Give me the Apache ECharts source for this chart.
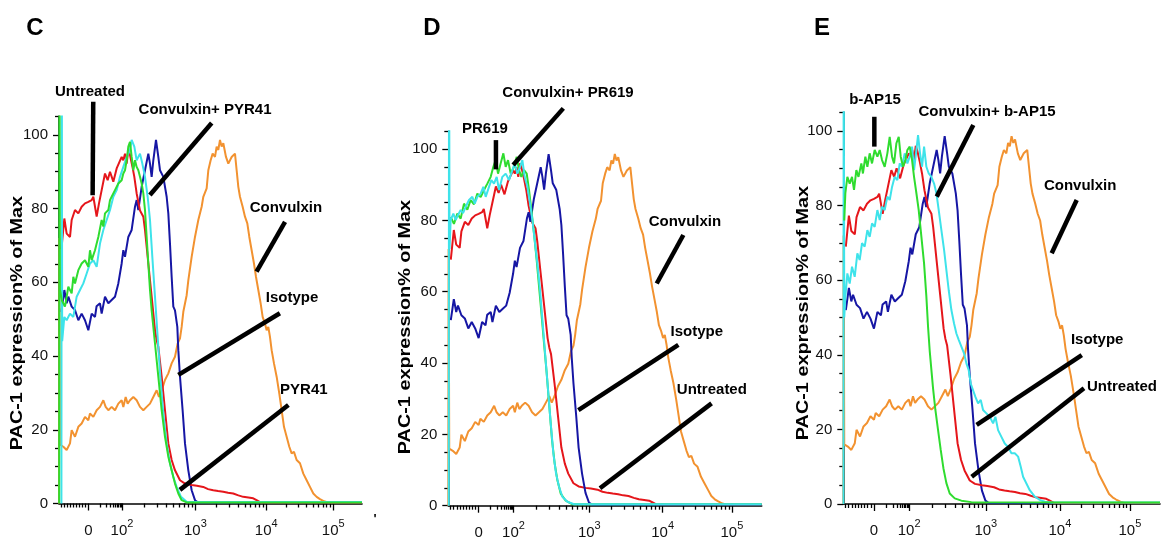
<!DOCTYPE html>
<html>
<head>
<meta charset="utf-8">
<script src="https://cdn.jsdelivr.net/npm/echarts@6/dist/echarts.min.js"></script>
<style>
  html, body { margin: 0; padding: 0; background: #ffffff; }
  #chart { width: 1170px; height: 549px; }
</style>
</head>
<body>
<div id="chart"></div>
<script>
// Fluorescence axis: display channel 0..1000 (biexponential scale).
// Decade tick positions on that channel scale and their labels.
const xMajorTicks = [97, 208, 450, 684, 905];
const xTickLabels = ['0', '10^2', '10^3', '10^4', '10^5'];
const yMajorTicks = [0, 20, 40, 60, 80, 100];
const yMax = 105;

// Histograms: [channel, % of max]
// Controls shared by all three panels
const untreated = [
  [8, 69], [17.6, 77.3], [25.3, 73.2], [36.3, 72.3], [41.8, 76.9], [52.8, 79.6], [63.8, 78.7],
  [74.8, 80.5], [85.8, 81.4], [96.8, 81.8], [107.8, 82.3], [113.3, 83.2], [124.3, 77.8], [132, 81.4],
  [140.8, 85.0], [151.8, 89.5], [160.6, 87.7], [168.3, 90.0], [179.3, 87.3], [190.3, 90.9],
  [195.8, 91.3], [206.8, 94.0], [212.3, 93.1], [217.8, 94.9], [223.3, 92.2], [228.8, 96.0],
  [234.3, 94.5], [242, 91.5], [248.6, 88.6], [256.3, 84.1], [267.3, 79.5], [278.3, 77.8],
  [283.8, 74.2], [294.8, 65.1], [305.8, 56.1], [316.8, 47.0], [322.3, 44.3], [327.8, 42.5],
  [338.8, 34.4], [349.8, 25.3], [360.8, 16.3], [371.8, 11.8], [382.8, 9.0], [399.3, 6.3],
  [415.8, 5.4], [437.8, 5.0], [455, 4.8], [476, 4.5], [492, 3.9], [509, 3.6], [525, 3.4],
  [542, 3.2], [558, 2.9], [575, 2.7], [592, 2.2], [608, 1.8], [625, 1.6], [641, 1.4],
  [652, 0.9], [665, 0.3], [1000, 0.3]
];
const isotype = [
  [8, 52], [17.6, 57.9], [25.3, 54.3], [30.8, 56.1], [41.8, 53.4], [52.8, 52.5], [63.8, 49.7],
  [74.8, 51.5], [85.8, 49.7], [96.8, 47.0], [107.8, 51.5], [118.8, 50.6], [124, 53.5], [135.3, 54.3],
  [140.8, 51.5], [151.8, 56.1], [162.8, 54.3], [173.8, 55.2], [184.8, 56.1], [195.8, 59.7],
  [206.8, 65.1], [212.3, 68.7], [217.8, 66.9], [228.8, 72.3], [239.8, 74.2], [250.8, 80.5],
  [256.3, 82.3], [261.8, 79.6], [272.8, 85.9], [283.8, 90.4], [294.8, 94.9], [300.3, 92.2],
  [305.8, 88.6], [311.3, 93.1], [320.1, 98.6], [327.8, 94.0], [333.3, 90.4], [344.3, 88.6],
  [355.3, 83.2], [360.8, 78.7], [366.3, 70.5], [371.8, 61.5], [377.3, 53.4], [382.8, 52.4],
  [390.5, 47.9], [393.8, 41.6], [399.3, 34.4], [408, 25.3], [415.8, 16.3], [426.8, 9.0],
  [437.8, 3.6], [448.8, 0.9], [458, 0.3], [1000, 0.3]
];
const convulxin = [
  [0, 0], [1, 72], [3, 16], [14.3, 15.4], [25.3, 14.5], [36.3, 16.3], [41.8, 19.9], [52.8, 18.1],
  [63.8, 20.8], [74.8, 21.7], [85.8, 23.5], [96.8, 22.6], [102.3, 24.4], [113.3, 23.5], [124.3, 25.3],
  [135.3, 26.2], [146.3, 28.0], [154, 26.2], [162.8, 25.3], [173.8, 26.2], [184.8, 25.3],
  [195.8, 27.1], [206.8, 28.0], [212.3, 26.2], [220, 28.9], [226.6, 27.1], [234.3, 28.0],
  [245.3, 28.9], [256.3, 28.0], [267.3, 26.2], [278.3, 25.3], [289.3, 26.2], [300.3, 27.1],
  [311.3, 28.9], [322.3, 30.7], [330, 28.9], [338.8, 30.7], [349.8, 33.5], [360.8, 35.3],
  [371.8, 38.0], [382.8, 39.8], [391.6, 43.4], [399.3, 44.8], [404.8, 47.9], [410.3, 52.0],
  [421.3, 56.5], [426.8, 60.5], [437.8, 66.9], [448.8, 72.3], [459.8, 76.9], [470.8, 80.5],
  [476.3, 83.2], [487.3, 85.5], [492.8, 90.4], [500.5, 93.1], [507.1, 94.9], [514.8, 94.0],
  [520.3, 96.8], [525.8, 95.9], [531.3, 98.6], [536.8, 96.8], [542.3, 97.7], [551.1, 94.0],
  [558.8, 92.2], [569.8, 94.0], [580.8, 94.9], [586.3, 90.4], [591.8, 85.9], [597.3, 83.2],
  [606.1, 80.5], [613.8, 77.8], [621.5, 76.0], [628.1, 72.3], [635.8, 68.7], [643.5, 65.1],
  [650.1, 61.5], [657.8, 57.9], [665.5, 54.3], [672.1, 50.6], [679.8, 48.8], [685.3, 47.0],
  [690.8, 47.9], [696.3, 45.2], [701.8, 41.6], [709.5, 38.0], [718.3, 34.4], [727.1, 29.8],
  [734.8, 25.3], [742.5, 20.8], [751.3, 18.1], [760.1, 15.4], [767.8, 13.6], [775.5, 14.0],
  [784.3, 11.8], [795.3, 10.9], [806.3, 8.1], [817.3, 6.3], [828.3, 4.5], [839.3, 2.7],
  [850.3, 1.8], [861.3, 1.2], [875, 0.6], [888, 0.3], [1000, 0.3]
];

// Panel C: PYR41
const pyr41 = [
  [0.5, 0], [1.5, 140], [3, 58], [10, 55], [19.8, 53.4], [30.8, 58.8], [41.8, 57.0], [47.3, 61.5],
  [52.8, 59.7], [63.8, 63.3], [74.8, 65.1], [85.8, 66.0], [96.8, 64.2], [102.3, 68.7], [107.8, 66.0],
  [118.8, 68.7], [124.3, 70.5], [129.8, 72.3], [140.8, 76.9], [146.3, 75.1], [151.8, 78.7],
  [162.8, 79.6], [168.3, 82.3], [173.8, 83.2], [184.8, 85.0], [195.8, 86.8], [206.8, 87.7],
  [212.3, 89.5], [217.8, 90.4], [223.3, 93.1], [228.8, 96.8], [234.3, 98.1], [239.8, 94.0],
  [245.3, 90.4], [250.8, 93.1], [256.3, 91.3], [261.8, 90.4], [267.3, 88.6], [272.8, 86.8],
  [278.3, 84.1], [283.8, 79.6], [289.3, 72.3], [294.8, 65.1], [300.3, 57.9], [305.8, 52.4],
  [316.8, 43.4], [327.8, 34.4], [338.8, 25.3], [349.8, 18.1], [360.8, 12.7], [371.8, 9.0],
  [382.8, 5.4], [393.8, 2.7], [404.8, 0.9], [421.3, 0.3], [1000, 0.3]
];
const convulxinPyr41 = [
  [8, 0], [9, 140], [10.5, 44], [17.6, 50.6], [25.3, 49.7], [36.3, 51.5], [47.3, 50.6], [58.3, 56.1],
  [69.3, 57.9], [80.3, 59.7], [91.3, 62.4], [102.3, 65.1], [113.3, 66.0], [124.3, 64.2], [135.3, 70.5],
  [146.3, 74.2], [157.3, 76.9], [168.3, 79.6], [179.3, 83.2], [190.3, 85.0], [201.3, 88.6],
  [212.3, 91.3], [223.3, 94.0], [234.3, 95.9], [239.8, 98.6], [248.6, 96.8], [256.3, 93.1],
  [267.3, 94.9], [275, 92.2], [283.8, 88.6], [292.6, 83.2], [300.3, 76.9], [308, 66.9],
  [316.8, 56.1], [325.6, 45.2], [334.4, 34.4], [344.3, 24.4], [355.3, 16.3], [366.3, 10.9],
  [377.3, 7.2], [388.3, 4.5], [402.6, 1.8], [421.3, 0.5], [1000, 0.4]
];

// Panel D: PR619
const pr619 = [
  [7.6, 81], [18, 79], [28.9, 81.9], [39.5, 80.5], [50.1, 84.7], [60.8, 83], [71.4, 85.7], [82, 84.5],
  [92.7, 87.5], [103.3, 86.5], [114, 88.5], [124.6, 90.3], [135.3, 92.2], [143.8, 95.0], [151.2, 96.9],
  [158.7, 93.1], [167.2, 96.0], [175.7, 98.8], [183.1, 95.0], [190.6, 96.9], [199.1, 93.1],
  [209.7, 95.0], [218.3, 97.8], [225.7, 94.1], [233.1, 92.2], [241.7, 94.1], [250.2, 93.1],
  [257.6, 88.5], [265.1, 82.9], [273.6, 76.3], [282.1, 68.8], [290.6, 60.4], [299.1, 52.0],
  [305.5, 45.5], [314, 37.1], [322.5, 27.7], [331, 18.4], [339.5, 11.8], [348, 7.2], [358.7, 3.4],
  [374.7, 1.4], [396, 0.4], [1000, 0.4]
];
const convulxinPr619 = [
  [1.5, 0], [2.3, 140], [4, 72], [7.6, 80.1], [16.1, 81.9], [23.5, 80.1], [31, 81.5], [39.5, 82.9],
  [47, 82], [55.5, 83.8], [66.1, 85.7], [76.7, 86.6], [84.2, 84.7], [92.7, 86.6], [103.3, 87.5],
  [111.8, 89.4], [119.3, 86.6], [129.9, 89.4], [137.4, 91.3], [145.9, 90.3], [154.4, 92.2],
  [161.9, 88.5], [172.5, 92.2], [183.1, 93.1], [193.8, 91.3], [204.4, 94.1], [211.9, 96.0],
  [220.4, 93.1], [228.9, 95.0], [236.3, 96.9], [243.8, 92.2], [252.3, 89.4], [260.8, 84.7],
  [268.3, 80.1], [275.7, 74.4], [284.2, 67.9], [292.7, 60.4], [301.2, 51.1], [309.8, 41.7],
  [318.3, 32.4], [326.8, 23.1], [335.3, 14.6], [343.8, 9.0], [353.4, 5.3], [364, 2.5], [380, 1.1],
  [401.3, 0.4], [1000, 0.4]
];

// Panel E: b-AP15
const bap15 = [
  [3, 76], [6.5, 83.3], [12.8, 87.7], [20.2, 85.9], [27.5, 87.7], [33.8, 84.2], [41.2, 89.5], [48, 87.7],
  [57, 91.3], [62, 88.6], [69.6, 93.1], [76, 90.4], [83.3, 94.0], [90.7, 91.3], [99.1, 94.9],
  [107.6, 93.1], [115, 94.9], [122.3, 92.2], [130.7, 90.4], [139.1, 94.0], [146.5, 98.4], [153.9, 93.1],
  [160.2, 91.3], [167.6, 96.7], [175, 98.4], [181.3, 93.1], [188.6, 90.4], [196, 92.2], [202.3, 94.9],
  [209.7, 95.8], [217.1, 92.2], [223.4, 87.7], [230.8, 83.3], [238.1, 78.8], [246.6, 71.6],
  [255, 64.5], [262.3, 55.6], [267.6, 47.5], [272.9, 41], [278.1, 36], [283.4, 31], [290.8, 25.2],
  [299.2, 19.8], [307.6, 14.5], [316.1, 9.6], [325.5, 5.6], [336.1, 2.8], [351.9, 1.5], [372.9, 0.9],
  [404.5, 0.5], [1000, 0.4]
];
const convulxinBap15 = [
  [0.5, 0], [1.2, 140], [3, 50], [6.5, 55.6], [12.8, 61.8], [20.2, 59.1], [27.5, 63.6], [36, 60.9],
  [44.4, 67.2], [51.7, 65.4], [59.1, 69.9], [67.5, 69.0], [76, 73.4], [83.3, 71.6], [90.7, 75.2],
  [99.1, 74.3], [107.6, 78.8], [115, 76.1], [122.3, 79.7], [130.7, 78.8], [139.1, 82.4], [146.5, 81.5],
  [153.9, 85.0], [162.3, 87.7], [170.7, 86.8], [178.1, 91.3], [185.5, 90.4], [193.9, 94.0],
  [202.3, 91.3], [209.7, 93.1], [217.1, 95.8], [223.4, 89.5], [230.8, 94.9], [236, 98.9],
  [242.3, 94.0], [248.7, 90.4], [255, 95.8], [262.3, 90.4], [269.7, 88.6], [278.1, 87.7],
  [286.6, 85.9], [294, 83.3], [301.3, 78.8], [309.7, 73.4], [318.2, 68.1], [325.5, 62.7],
  [332.9, 57.3], [341.3, 52.0], [349.7, 48.4], [357.1, 45.7], [364.5, 44.0], [372.9, 42.2],
  [381.3, 40.4], [388.7, 37.7], [396, 35.9], [402.4, 32.3], [409.8, 30.5], [417.1, 28.7],
  [425.6, 27.0], [434, 27.9], [441.3, 25.2], [451.9, 24.3], [462.4, 23.4], [473, 21.6],
  [480.3, 23.4], [488.7, 19.8], [499.3, 18.0], [509.8, 16.2], [520.3, 15.3], [530.9, 13.6],
  [541.4, 13.6], [552, 12.7], [560.3, 10.0], [567.7, 7.3], [578.2, 5.5], [588.8, 3.7],
  [604.6, 2.0], [620.4, 1.1], [636.2, 0.6], [657.2, 0.4], [1000, 0.4]
];

const colors = {
  untreated: '#e5161b',
  isotype: '#1616a4',
  convulxin: '#f29230',
  drug: '#2fdc2f',
  combo: '#3ee3ea'
};

const FONT = '"Liberation Sans", Arial, Helvetica, sans-serif';

// Panel layout and content
const panels = [
  {
    letter: 'C', letterPos: [35, 28], titlePos: [17.5, 323],
    grid: { left: 59, right: 808, top: 116.4, bottom: 45.5 },
    series: [
      ['Convulxin', convulxin, colors.convulxin],
      ['Isotype', isotype, colors.isotype],
      ['Untreated', untreated, colors.untreated],
      ['Convulxin+ PYR41', convulxinPyr41, colors.combo],
      ['PYR41', pyr41, colors.drug]
    ],
    notes: [
      { text: 'Untreated', at: [102, 111.6], from: [113, 109], to: [111, 83.6] },
      { text: 'Convulxin+ PYR41', at: [482, 106.7], from: [504, 103.2], to: [300, 83.7] },
      { text: 'Convulxin', at: [749, 80.1], from: [746, 76.4], to: [652, 62.9] },
      { text: 'Isotype', at: [769, 55.7], from: [729, 51.6], to: [394, 34.9] },
      { text: 'PYR41', at: [808, 30.8], from: [757, 26.7], to: [399, 3.7] }
    ]
  },
  {
    letter: 'D', letterPos: [432, 28], titlePos: [406, 327],
    grid: { left: 448.3, right: 408.3, top: 131.2, bottom: 43.3 },
    series: [
      ['Convulxin', convulxin, colors.convulxin],
      ['Untreated', untreated, colors.untreated],
      ['Isotype', isotype, colors.isotype],
      ['PR619', pr619, colors.drug],
      ['Convulxin+ PR619', convulxinPr619, colors.combo]
    ],
    notes: [
      { text: 'PR619', at: [117, 105.6], from: [152, 102.5], to: [152, 94.3] },
      { text: 'Convulxin+ PR619', at: [382, 115.7], from: [367, 111.4], to: [207, 95.5] },
      { text: 'Convulxin', at: [755, 79.5], from: [750, 75.9], to: [665, 62.3] },
      { text: 'Isotype', at: [793, 48.7], from: [734, 45.1], to: [415, 26.8] },
      { text: 'Untreated', at: [841, 32.4], from: [840, 28.7], to: [484, 4.9] }
    ]
  },
  {
    letter: 'E', letterPos: [822, 28], titlePos: [803.5, 313],
    grid: { left: 843.3, right: 10, top: 112.3, bottom: 45 },
    series: [
      ['Convulxin', convulxin, colors.convulxin],
      ['Isotype', isotype, colors.isotype],
      ['Untreated', untreated, colors.untreated],
      ['Convulxin+ b-AP15', convulxinBap15, colors.combo],
      ['b-AP15', bap15, colors.drug]
    ],
    notes: [
      { text: 'b-AP15', at: [100, 108.3], from: [98, 103.8], to: [98, 95.8] },
      { text: 'Convulxin+ b-AP15', at: [454, 105.1], from: [410.5, 101.6], to: [295, 82.4] },
      { text: 'Convulxin', at: [748, 85.3], from: [737, 81.5], to: [658, 67.2] },
      { text: 'Isotype', at: [801.5, 44.0], from: [753, 39.9], to: [421, 21.2] },
      { text: 'Untreated', at: [880, 31.4], from: [760, 31.0], to: [405.5, 7.3] }
    ]
  }
];

// Minor ticks of the fluorescence axis: linear region below zero and log sub-decades
function minorXTicks() {
  const ticks = [];
  for (let k = 1; k <= 9; k++) ticks.push(xMajorTicks[0] - 10 * k);
  const decadeStarts = [135, xMajorTicks[1], xMajorTicks[2], xMajorTicks[3]];
  const decadeEnds = [xMajorTicks[1], xMajorTicks[2], xMajorTicks[3], xMajorTicks[4]];
  decadeStarts.forEach((s, i) => {
    const w = decadeEnds[i] - s;
    for (let m = (i === 0 ? 1 : 2); m <= 9; m++) ticks.push(s + Math.log10(m) * w);
  });
  return ticks;
}
const xMinorTicks = minorXTicks();
const yMinorTicks = [];
for (let v = 5; v <= yMax; v += 5) if (v % 20 !== 0) yMinorTicks.push(v);

function xLabel(v) {
  let best = 0;
  xMajorTicks.forEach((t, i) => { if (Math.abs(t - v) < Math.abs(xMajorTicks[best] - v)) best = i; });
  const parts = xTickLabels[best].split('^');
  return parts.length > 1 ? '{b|' + parts[0] + '}{s|' + parts[1] + '}' : '{b|' + parts[0] + '}';
}

const axisLineStyle = { color: '#000', width: 1.6 };
const tickStyle = { color: '#000', width: 1.3 };

const grids = [], xAxes = [], yAxes = [], series = [];
panels.forEach((p, i) => {
  grids.push(Object.assign({ containLabel: false }, p.grid));
  xAxes.push({
    type: 'value', gridIndex: i, min: 0, max: 1000, position: 'bottom',
    splitLine: { show: false },
    axisLine: { show: true, onZero: false, lineStyle: axisLineStyle },
    axisTick: { show: true, customValues: xMajorTicks, length: 7, lineStyle: tickStyle },
    axisLabel: {
      show: true, customValues: xMajorTicks, margin: 13, formatter: xLabel,
      rich: {
        b: { fontSize: 15, fontFamily: FONT, color: '#111', lineHeight: 28 },
        s: { fontSize: 11, fontFamily: FONT, color: '#111', padding: [0, 0, 14, 0] }
      }
    }
  });
  xAxes.push({
    type: 'value', gridIndex: i, min: 0, max: 1000, position: 'bottom',
    splitLine: { show: false },
    axisLine: { show: false, onZero: false },
    axisTick: { show: true, customValues: xMinorTicks, length: 4, lineStyle: tickStyle },
    axisLabel: { show: false }
  });
  yAxes.push({
    type: 'value', gridIndex: i, min: 0, max: yMax, position: 'left',
    splitLine: { show: false },
    axisLine: { show: true, onZero: false, lineStyle: axisLineStyle },
    axisTick: { show: true, customValues: yMajorTicks, length: 6, lineStyle: tickStyle },
    axisLabel: { show: true, customValues: yMajorTicks, margin: 11, fontSize: 15, fontFamily: FONT, color: '#111' }
  });
  yAxes.push({
    type: 'value', gridIndex: i, min: 0, max: yMax, position: 'left',
    splitLine: { show: false },
    axisLine: { show: false, onZero: false },
    axisTick: { show: true, customValues: yMinorTicks, length: 4, lineStyle: tickStyle },
    axisLabel: { show: false }
  });
  p.series.forEach((s, k) => {
    series.push({
      name: s[0] + ' ' + p.letter, type: 'line', xAxisIndex: 2 * i, yAxisIndex: 2 * i,
      data: s[1], symbol: 'none', showSymbol: false, clip: true, z: 2 + k,
      lineStyle: { color: s[2], width: 2 }, itemStyle: { color: s[2] }
    });
  });
});

const chart = echarts.init(document.getElementById('chart'), null, { renderer: 'canvas' });
chart.setOption({
  animation: false,
  backgroundColor: '#ffffff',
  grid: grids, xAxis: xAxes, yAxis: yAxes, series: series
});

// Leader lines, labels, axis titles and panel letters
const graphics = [];
panels.forEach((p, i) => {
  const finder = { xAxisIndex: 2 * i, yAxisIndex: 2 * i };
  const px = (pt) => chart.convertToPixel(finder, pt);
  p.notes.forEach((n) => {
    const a = px(n.from), b = px(n.to), c = px(n.at);
    graphics.push({
      type: 'line', z: 50, silent: true,
      shape: { x1: a[0], y1: a[1], x2: b[0], y2: b[1] },
      style: { stroke: '#000', lineWidth: 4.5, lineCap: 'butt' }
    });
    graphics.push({
      type: 'text', z: 51, silent: true, x: c[0], y: c[1],
      style: { text: n.text, font: 'bold 15px ' + FONT, fill: '#000', align: 'center', verticalAlign: 'middle' }
    });
  });
  graphics.push({
    type: 'text', z: 51, silent: true, x: p.titlePos[0], y: p.titlePos[1],
    rotation: Math.PI / 2, scaleX: 1.24,
    style: { text: 'PAC-1 expression% of Max', font: 'bold 16px ' + FONT, fill: '#000', align: 'center', verticalAlign: 'middle' }
  });
  graphics.push({
    type: 'text', z: 51, silent: true, x: p.letterPos[0], y: p.letterPos[1],
    style: { text: p.letter, font: 'bold 24px ' + FONT, fill: '#000', align: 'center', verticalAlign: 'middle' }
  });
});
// small stray mark after the first panel's axis end
const endC = chart.convertToPixel({ xAxisIndex: 0, yAxisIndex: 0 }, [1000, 0]);
graphics.push({
  type: 'text', z: 51, silent: true, x: endC[0] + 13, y: endC[1] + 16,
  style: { text: '\'', font: 'bold 13px ' + FONT, fill: '#000', align: 'center', verticalAlign: 'middle' }
});
chart.setOption({ graphic: graphics });
</script>
</body>
</html>
